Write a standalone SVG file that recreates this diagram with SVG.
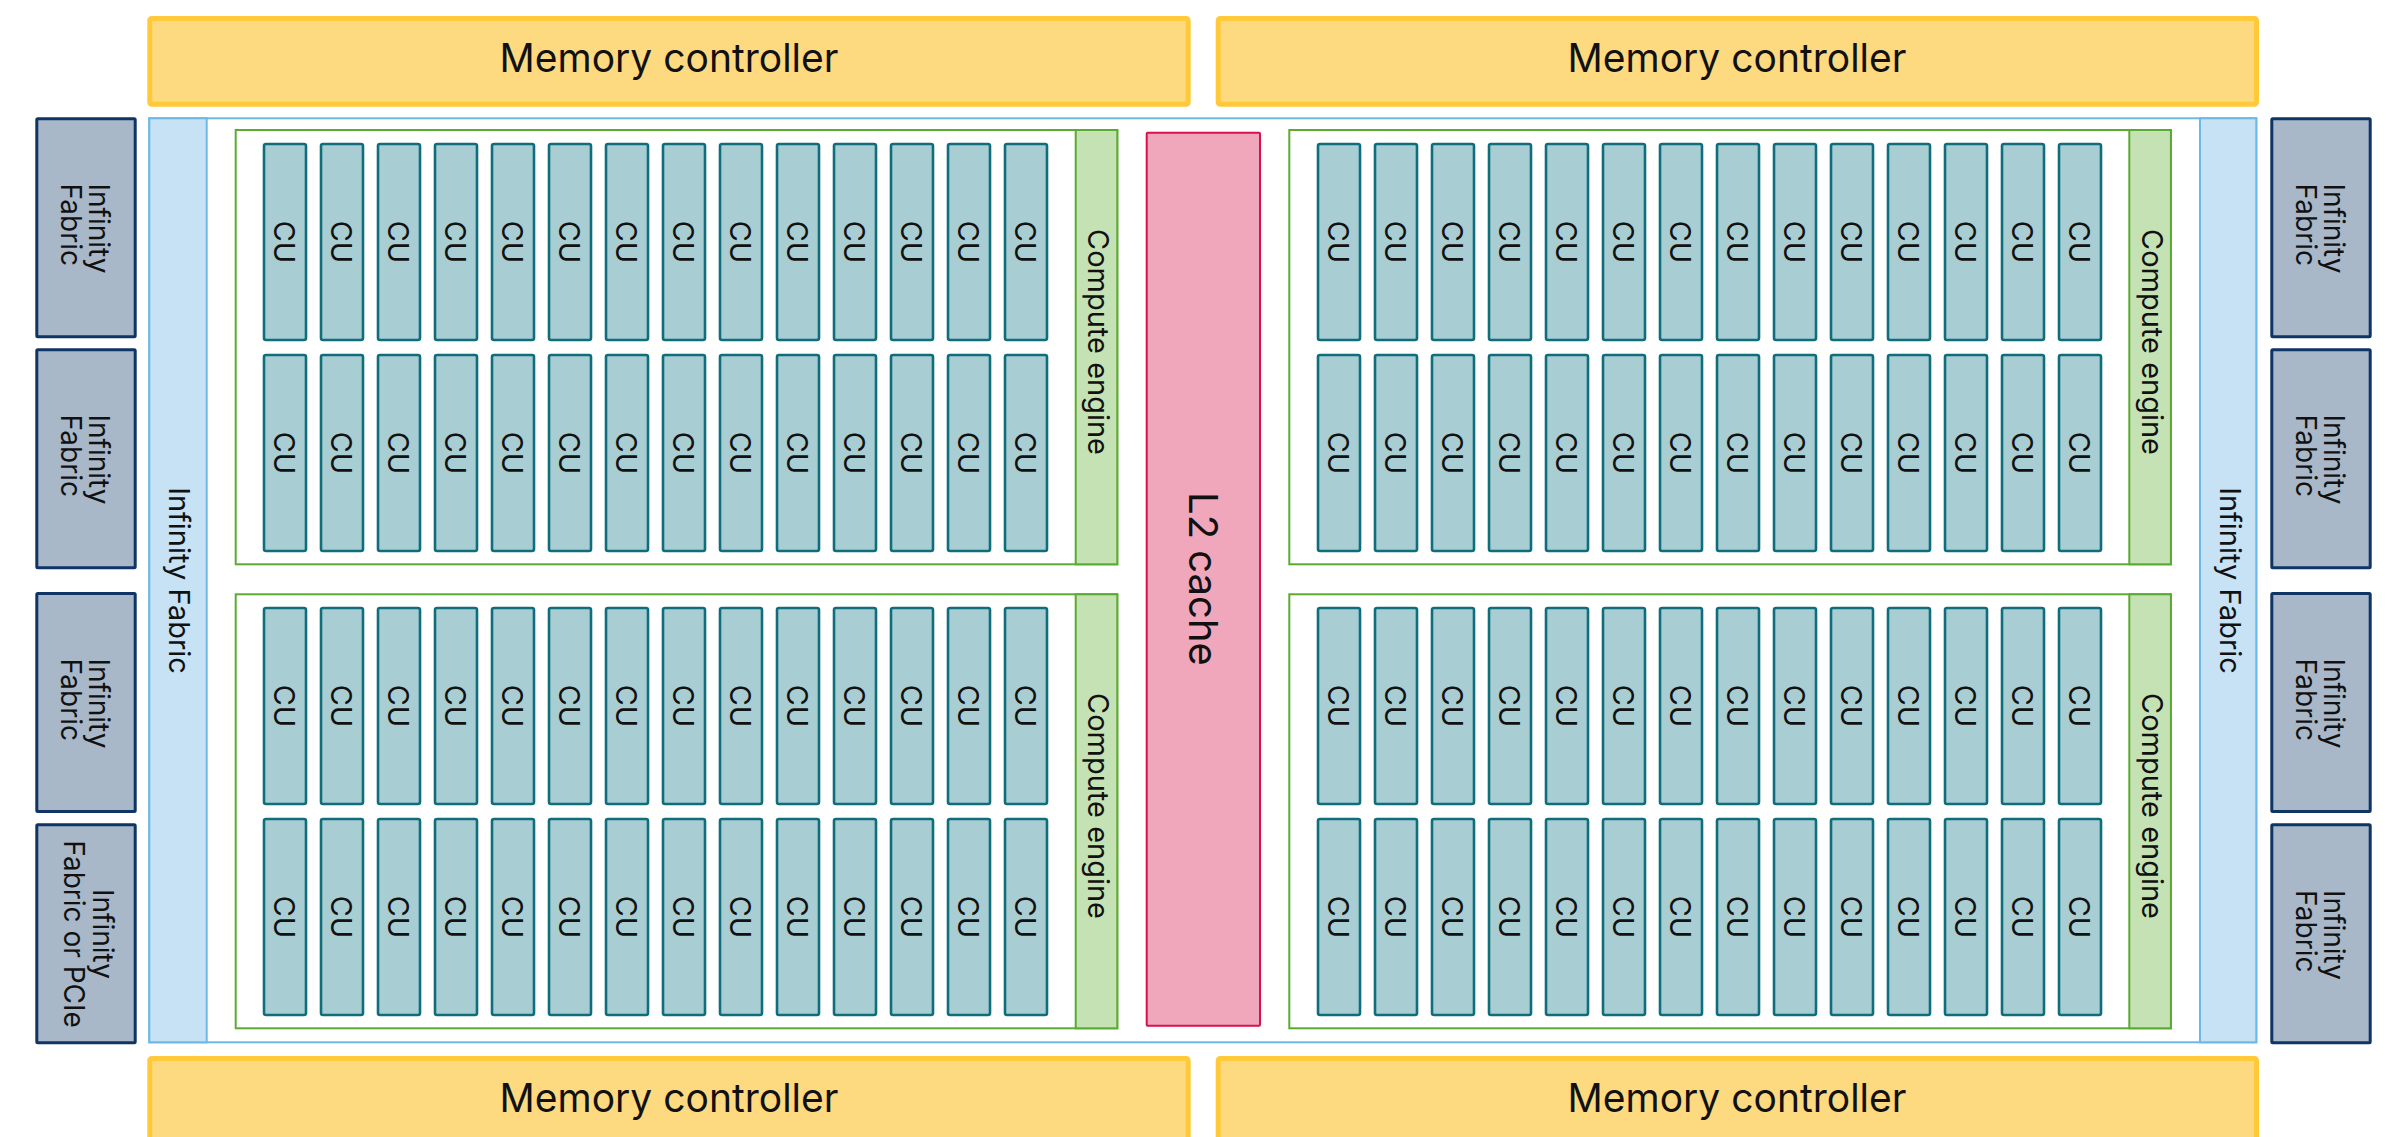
<svg xmlns="http://www.w3.org/2000/svg" width="2392" height="1137" viewBox="0 0 2392 1137">
<style>
text{font-family:Inter,"Liberation Sans",sans-serif;fill:#111;text-anchor:middle}
.mc{fill:#fdd97f;stroke:#ffc93a;stroke-width:5}
.mct{font-size:39px}
.if{fill:#a9b8c8;stroke:#0e3564;stroke-width:3}
.ift{font-size:28px;text-anchor:start}
.ifc{font-size:28px}
.outer{fill:#fff;stroke:#6cb8e6;stroke-width:2}
.strip{fill:#c6e2f4;stroke:#6cb8e6;stroke-width:2}
.st{font-size:29px}
.ce{fill:#fff;stroke:#5aac30;stroke-width:2}
.ces{fill:#c5e2b5;stroke:#5aac30;stroke-width:2}
.l2{fill:#f0a7bc;stroke:#d8104c;stroke-width:2}
.l2t{font-size:40px}
.cu{fill:#a8cdd3;stroke:#0f6e7b;stroke-width:2.6}
.cut{font-size:29px}
</style>
<rect width="2392" height="1137" fill="#fff"/>
<g id="memory-controllers">
<g id="mc-top-left"><rect class="mc" x="149.8" y="18.5" width="1038.4" height="85.7" rx="2"/><text class="mct" x="669" y="71.7">Memory controller</text></g>
<g id="mc-top-right"><rect class="mc" x="1218.2" y="18.5" width="1038.3" height="85.7" rx="2"/><text class="mct" x="1737" y="71.7">Memory controller</text></g>
<g id="mc-bottom-left"><rect class="mc" x="149.8" y="1058.5" width="1038.4" height="85.7" rx="2"/><text class="mct" x="669" y="1111.7">Memory controller</text></g>
<g id="mc-bottom-right"><rect class="mc" x="1218.2" y="1058.5" width="1038.3" height="85.7" rx="2"/><text class="mct" x="1737" y="1111.7">Memory controller</text></g>
</g>
<g id="io-links">
<g id="if-left-1"><rect class="if" x="36.8" y="118.8" width="98.4" height="218" rx="1"/><text class="ift" transform="translate(86 227.5) rotate(90)"><tspan x="-44" y="-2.5">Infinity</tspan><tspan x="-44" y="25.5">Fabric</tspan></text></g>
<g id="if-left-2"><rect class="if" x="36.8" y="349.8" width="98.4" height="218" rx="1"/><text class="ift" transform="translate(86 458.5) rotate(90)"><tspan x="-44" y="-2.5">Infinity</tspan><tspan x="-44" y="25.5">Fabric</tspan></text></g>
<g id="if-left-3"><rect class="if" x="36.8" y="593.5" width="98.4" height="218" rx="1"/><text class="ift" transform="translate(86 702.5) rotate(90)"><tspan x="-44" y="-2.5">Infinity</tspan><tspan x="-44" y="25.5">Fabric</tspan></text></g>
<g id="if-left-4"><rect class="if" x="36.8" y="824.8" width="98.4" height="218" rx="1"/><text class="ifc" transform="translate(86 934) rotate(90)"><tspan x="0" y="-6.7">Infinity</tspan><tspan x="0" y="22">Fabric or PCIe</tspan></text></g>
<g id="if-right-1"><rect class="if" x="2271.8" y="118.8" width="98.4" height="218" rx="1"/><text class="ift" transform="translate(2321 227.5) rotate(90)"><tspan x="-44" y="-3">Infinity</tspan><tspan x="-44" y="25.5">Fabric</tspan></text></g>
<g id="if-right-2"><rect class="if" x="2271.8" y="349.8" width="98.4" height="218" rx="1"/><text class="ift" transform="translate(2321 458.5) rotate(90)"><tspan x="-44" y="-3">Infinity</tspan><tspan x="-44" y="25.5">Fabric</tspan></text></g>
<g id="if-right-3"><rect class="if" x="2271.8" y="593.5" width="98.4" height="218" rx="1"/><text class="ift" transform="translate(2321 702.5) rotate(90)"><tspan x="-44" y="-3">Infinity</tspan><tspan x="-44" y="25.5">Fabric</tspan></text></g>
<g id="if-right-4"><rect class="if" x="2271.8" y="824.8" width="98.4" height="218" rx="1"/><text class="ift" transform="translate(2321 934) rotate(90)"><tspan x="-44" y="-3">Infinity</tspan><tspan x="-44" y="25.5">Fabric</tspan></text></g>
</g>
<g id="die">
<rect class="outer" x="149.3" y="118.3" width="2107" height="924"/>
<g id="if-strip-left"><rect class="strip" x="149.3" y="118.3" width="57.4" height="924"/><text class="st" transform="translate(177.5 580.5) rotate(90)" y="8.2">Infinity Fabric</text></g>
<g id="if-strip-right"><rect class="strip" x="2200" y="118.3" width="56.3" height="924"/><text class="st" transform="translate(2228.5 580.5) rotate(90)" y="8.2">Infinity Fabric</text></g>
<g id="l2-cache"><rect class="l2" x="1146.7" y="132.7" width="113.3" height="893" rx="1"/><text class="l2t" transform="translate(1203.5 579) rotate(90)" y="15">L2 cache</text></g>
</g>
<g id="ce-top-left"><rect class="ce" x="235.7" y="130" width="881.6" height="434.3"/><rect class="ces" x="1075.7" y="130" width="41.6" height="434.3"/><text class="st" transform="translate(1096.5 342) rotate(90)" y="8.2">Compute engine</text></g>
<g id="ce-bottom-left"><rect class="ce" x="235.7" y="594.3" width="881.6" height="434"/><rect class="ces" x="1075.7" y="594.3" width="41.6" height="434"/><text class="st" transform="translate(1096.5 806) rotate(90)" y="8.2">Compute engine</text></g>
<g id="ce-top-right"><rect class="ce" x="1289.3" y="130" width="881.6" height="434.3"/><rect class="ces" x="2129.3" y="130" width="41.6" height="434.3"/><text class="st" transform="translate(2150.1 342) rotate(90)" y="8.2">Compute engine</text></g>
<g id="ce-bottom-right"><rect class="ce" x="1289.3" y="594.3" width="881.6" height="434"/><rect class="ces" x="2129.3" y="594.3" width="41.6" height="434"/><text class="st" transform="translate(2150.1 806) rotate(90)" y="8.2">Compute engine</text></g>
<g id="cus">
<g id="cu-tl-r1-01"><rect class="cu" x="264" y="144" width="42" height="196" rx="2"/><text class="cut" transform="translate(285 242) rotate(90)" y="10.8">CU</text></g>
<g id="cu-tl-r1-02"><rect class="cu" x="321" y="144" width="42" height="196" rx="2"/><text class="cut" transform="translate(342 242) rotate(90)" y="10.8">CU</text></g>
<g id="cu-tl-r1-03"><rect class="cu" x="378" y="144" width="42" height="196" rx="2"/><text class="cut" transform="translate(399 242) rotate(90)" y="10.8">CU</text></g>
<g id="cu-tl-r1-04"><rect class="cu" x="435" y="144" width="42" height="196" rx="2"/><text class="cut" transform="translate(456 242) rotate(90)" y="10.8">CU</text></g>
<g id="cu-tl-r1-05"><rect class="cu" x="492" y="144" width="42" height="196" rx="2"/><text class="cut" transform="translate(513 242) rotate(90)" y="10.8">CU</text></g>
<g id="cu-tl-r1-06"><rect class="cu" x="549" y="144" width="42" height="196" rx="2"/><text class="cut" transform="translate(570 242) rotate(90)" y="10.8">CU</text></g>
<g id="cu-tl-r1-07"><rect class="cu" x="606" y="144" width="42" height="196" rx="2"/><text class="cut" transform="translate(627 242) rotate(90)" y="10.8">CU</text></g>
<g id="cu-tl-r1-08"><rect class="cu" x="663" y="144" width="42" height="196" rx="2"/><text class="cut" transform="translate(684 242) rotate(90)" y="10.8">CU</text></g>
<g id="cu-tl-r1-09"><rect class="cu" x="720" y="144" width="42" height="196" rx="2"/><text class="cut" transform="translate(741 242) rotate(90)" y="10.8">CU</text></g>
<g id="cu-tl-r1-10"><rect class="cu" x="777" y="144" width="42" height="196" rx="2"/><text class="cut" transform="translate(798 242) rotate(90)" y="10.8">CU</text></g>
<g id="cu-tl-r1-11"><rect class="cu" x="834" y="144" width="42" height="196" rx="2"/><text class="cut" transform="translate(855 242) rotate(90)" y="10.8">CU</text></g>
<g id="cu-tl-r1-12"><rect class="cu" x="891" y="144" width="42" height="196" rx="2"/><text class="cut" transform="translate(912 242) rotate(90)" y="10.8">CU</text></g>
<g id="cu-tl-r1-13"><rect class="cu" x="948" y="144" width="42" height="196" rx="2"/><text class="cut" transform="translate(969 242) rotate(90)" y="10.8">CU</text></g>
<g id="cu-tl-r1-14"><rect class="cu" x="1005" y="144" width="42" height="196" rx="2"/><text class="cut" transform="translate(1026 242) rotate(90)" y="10.8">CU</text></g>
<g id="cu-tl-r2-01"><rect class="cu" x="264" y="355" width="42" height="196" rx="2"/><text class="cut" transform="translate(285 453) rotate(90)" y="10.8">CU</text></g>
<g id="cu-tl-r2-02"><rect class="cu" x="321" y="355" width="42" height="196" rx="2"/><text class="cut" transform="translate(342 453) rotate(90)" y="10.8">CU</text></g>
<g id="cu-tl-r2-03"><rect class="cu" x="378" y="355" width="42" height="196" rx="2"/><text class="cut" transform="translate(399 453) rotate(90)" y="10.8">CU</text></g>
<g id="cu-tl-r2-04"><rect class="cu" x="435" y="355" width="42" height="196" rx="2"/><text class="cut" transform="translate(456 453) rotate(90)" y="10.8">CU</text></g>
<g id="cu-tl-r2-05"><rect class="cu" x="492" y="355" width="42" height="196" rx="2"/><text class="cut" transform="translate(513 453) rotate(90)" y="10.8">CU</text></g>
<g id="cu-tl-r2-06"><rect class="cu" x="549" y="355" width="42" height="196" rx="2"/><text class="cut" transform="translate(570 453) rotate(90)" y="10.8">CU</text></g>
<g id="cu-tl-r2-07"><rect class="cu" x="606" y="355" width="42" height="196" rx="2"/><text class="cut" transform="translate(627 453) rotate(90)" y="10.8">CU</text></g>
<g id="cu-tl-r2-08"><rect class="cu" x="663" y="355" width="42" height="196" rx="2"/><text class="cut" transform="translate(684 453) rotate(90)" y="10.8">CU</text></g>
<g id="cu-tl-r2-09"><rect class="cu" x="720" y="355" width="42" height="196" rx="2"/><text class="cut" transform="translate(741 453) rotate(90)" y="10.8">CU</text></g>
<g id="cu-tl-r2-10"><rect class="cu" x="777" y="355" width="42" height="196" rx="2"/><text class="cut" transform="translate(798 453) rotate(90)" y="10.8">CU</text></g>
<g id="cu-tl-r2-11"><rect class="cu" x="834" y="355" width="42" height="196" rx="2"/><text class="cut" transform="translate(855 453) rotate(90)" y="10.8">CU</text></g>
<g id="cu-tl-r2-12"><rect class="cu" x="891" y="355" width="42" height="196" rx="2"/><text class="cut" transform="translate(912 453) rotate(90)" y="10.8">CU</text></g>
<g id="cu-tl-r2-13"><rect class="cu" x="948" y="355" width="42" height="196" rx="2"/><text class="cut" transform="translate(969 453) rotate(90)" y="10.8">CU</text></g>
<g id="cu-tl-r2-14"><rect class="cu" x="1005" y="355" width="42" height="196" rx="2"/><text class="cut" transform="translate(1026 453) rotate(90)" y="10.8">CU</text></g>
<g id="cu-bl-r1-01"><rect class="cu" x="264" y="608" width="42" height="196" rx="2"/><text class="cut" transform="translate(285 706) rotate(90)" y="10.8">CU</text></g>
<g id="cu-bl-r1-02"><rect class="cu" x="321" y="608" width="42" height="196" rx="2"/><text class="cut" transform="translate(342 706) rotate(90)" y="10.8">CU</text></g>
<g id="cu-bl-r1-03"><rect class="cu" x="378" y="608" width="42" height="196" rx="2"/><text class="cut" transform="translate(399 706) rotate(90)" y="10.8">CU</text></g>
<g id="cu-bl-r1-04"><rect class="cu" x="435" y="608" width="42" height="196" rx="2"/><text class="cut" transform="translate(456 706) rotate(90)" y="10.8">CU</text></g>
<g id="cu-bl-r1-05"><rect class="cu" x="492" y="608" width="42" height="196" rx="2"/><text class="cut" transform="translate(513 706) rotate(90)" y="10.8">CU</text></g>
<g id="cu-bl-r1-06"><rect class="cu" x="549" y="608" width="42" height="196" rx="2"/><text class="cut" transform="translate(570 706) rotate(90)" y="10.8">CU</text></g>
<g id="cu-bl-r1-07"><rect class="cu" x="606" y="608" width="42" height="196" rx="2"/><text class="cut" transform="translate(627 706) rotate(90)" y="10.8">CU</text></g>
<g id="cu-bl-r1-08"><rect class="cu" x="663" y="608" width="42" height="196" rx="2"/><text class="cut" transform="translate(684 706) rotate(90)" y="10.8">CU</text></g>
<g id="cu-bl-r1-09"><rect class="cu" x="720" y="608" width="42" height="196" rx="2"/><text class="cut" transform="translate(741 706) rotate(90)" y="10.8">CU</text></g>
<g id="cu-bl-r1-10"><rect class="cu" x="777" y="608" width="42" height="196" rx="2"/><text class="cut" transform="translate(798 706) rotate(90)" y="10.8">CU</text></g>
<g id="cu-bl-r1-11"><rect class="cu" x="834" y="608" width="42" height="196" rx="2"/><text class="cut" transform="translate(855 706) rotate(90)" y="10.8">CU</text></g>
<g id="cu-bl-r1-12"><rect class="cu" x="891" y="608" width="42" height="196" rx="2"/><text class="cut" transform="translate(912 706) rotate(90)" y="10.8">CU</text></g>
<g id="cu-bl-r1-13"><rect class="cu" x="948" y="608" width="42" height="196" rx="2"/><text class="cut" transform="translate(969 706) rotate(90)" y="10.8">CU</text></g>
<g id="cu-bl-r1-14"><rect class="cu" x="1005" y="608" width="42" height="196" rx="2"/><text class="cut" transform="translate(1026 706) rotate(90)" y="10.8">CU</text></g>
<g id="cu-bl-r2-01"><rect class="cu" x="264" y="819" width="42" height="196" rx="2"/><text class="cut" transform="translate(285 917) rotate(90)" y="10.8">CU</text></g>
<g id="cu-bl-r2-02"><rect class="cu" x="321" y="819" width="42" height="196" rx="2"/><text class="cut" transform="translate(342 917) rotate(90)" y="10.8">CU</text></g>
<g id="cu-bl-r2-03"><rect class="cu" x="378" y="819" width="42" height="196" rx="2"/><text class="cut" transform="translate(399 917) rotate(90)" y="10.8">CU</text></g>
<g id="cu-bl-r2-04"><rect class="cu" x="435" y="819" width="42" height="196" rx="2"/><text class="cut" transform="translate(456 917) rotate(90)" y="10.8">CU</text></g>
<g id="cu-bl-r2-05"><rect class="cu" x="492" y="819" width="42" height="196" rx="2"/><text class="cut" transform="translate(513 917) rotate(90)" y="10.8">CU</text></g>
<g id="cu-bl-r2-06"><rect class="cu" x="549" y="819" width="42" height="196" rx="2"/><text class="cut" transform="translate(570 917) rotate(90)" y="10.8">CU</text></g>
<g id="cu-bl-r2-07"><rect class="cu" x="606" y="819" width="42" height="196" rx="2"/><text class="cut" transform="translate(627 917) rotate(90)" y="10.8">CU</text></g>
<g id="cu-bl-r2-08"><rect class="cu" x="663" y="819" width="42" height="196" rx="2"/><text class="cut" transform="translate(684 917) rotate(90)" y="10.8">CU</text></g>
<g id="cu-bl-r2-09"><rect class="cu" x="720" y="819" width="42" height="196" rx="2"/><text class="cut" transform="translate(741 917) rotate(90)" y="10.8">CU</text></g>
<g id="cu-bl-r2-10"><rect class="cu" x="777" y="819" width="42" height="196" rx="2"/><text class="cut" transform="translate(798 917) rotate(90)" y="10.8">CU</text></g>
<g id="cu-bl-r2-11"><rect class="cu" x="834" y="819" width="42" height="196" rx="2"/><text class="cut" transform="translate(855 917) rotate(90)" y="10.8">CU</text></g>
<g id="cu-bl-r2-12"><rect class="cu" x="891" y="819" width="42" height="196" rx="2"/><text class="cut" transform="translate(912 917) rotate(90)" y="10.8">CU</text></g>
<g id="cu-bl-r2-13"><rect class="cu" x="948" y="819" width="42" height="196" rx="2"/><text class="cut" transform="translate(969 917) rotate(90)" y="10.8">CU</text></g>
<g id="cu-bl-r2-14"><rect class="cu" x="1005" y="819" width="42" height="196" rx="2"/><text class="cut" transform="translate(1026 917) rotate(90)" y="10.8">CU</text></g>
<g id="cu-tr-r1-01"><rect class="cu" x="1318" y="144" width="42" height="196" rx="2"/><text class="cut" transform="translate(1339 242) rotate(90)" y="10.8">CU</text></g>
<g id="cu-tr-r1-02"><rect class="cu" x="1375" y="144" width="42" height="196" rx="2"/><text class="cut" transform="translate(1396 242) rotate(90)" y="10.8">CU</text></g>
<g id="cu-tr-r1-03"><rect class="cu" x="1432" y="144" width="42" height="196" rx="2"/><text class="cut" transform="translate(1453 242) rotate(90)" y="10.8">CU</text></g>
<g id="cu-tr-r1-04"><rect class="cu" x="1489" y="144" width="42" height="196" rx="2"/><text class="cut" transform="translate(1510 242) rotate(90)" y="10.8">CU</text></g>
<g id="cu-tr-r1-05"><rect class="cu" x="1546" y="144" width="42" height="196" rx="2"/><text class="cut" transform="translate(1567 242) rotate(90)" y="10.8">CU</text></g>
<g id="cu-tr-r1-06"><rect class="cu" x="1603" y="144" width="42" height="196" rx="2"/><text class="cut" transform="translate(1624 242) rotate(90)" y="10.8">CU</text></g>
<g id="cu-tr-r1-07"><rect class="cu" x="1660" y="144" width="42" height="196" rx="2"/><text class="cut" transform="translate(1681 242) rotate(90)" y="10.8">CU</text></g>
<g id="cu-tr-r1-08"><rect class="cu" x="1717" y="144" width="42" height="196" rx="2"/><text class="cut" transform="translate(1738 242) rotate(90)" y="10.8">CU</text></g>
<g id="cu-tr-r1-09"><rect class="cu" x="1774" y="144" width="42" height="196" rx="2"/><text class="cut" transform="translate(1795 242) rotate(90)" y="10.8">CU</text></g>
<g id="cu-tr-r1-10"><rect class="cu" x="1831" y="144" width="42" height="196" rx="2"/><text class="cut" transform="translate(1852 242) rotate(90)" y="10.8">CU</text></g>
<g id="cu-tr-r1-11"><rect class="cu" x="1888" y="144" width="42" height="196" rx="2"/><text class="cut" transform="translate(1909 242) rotate(90)" y="10.8">CU</text></g>
<g id="cu-tr-r1-12"><rect class="cu" x="1945" y="144" width="42" height="196" rx="2"/><text class="cut" transform="translate(1966 242) rotate(90)" y="10.8">CU</text></g>
<g id="cu-tr-r1-13"><rect class="cu" x="2002" y="144" width="42" height="196" rx="2"/><text class="cut" transform="translate(2023 242) rotate(90)" y="10.8">CU</text></g>
<g id="cu-tr-r1-14"><rect class="cu" x="2059" y="144" width="42" height="196" rx="2"/><text class="cut" transform="translate(2080 242) rotate(90)" y="10.8">CU</text></g>
<g id="cu-tr-r2-01"><rect class="cu" x="1318" y="355" width="42" height="196" rx="2"/><text class="cut" transform="translate(1339 453) rotate(90)" y="10.8">CU</text></g>
<g id="cu-tr-r2-02"><rect class="cu" x="1375" y="355" width="42" height="196" rx="2"/><text class="cut" transform="translate(1396 453) rotate(90)" y="10.8">CU</text></g>
<g id="cu-tr-r2-03"><rect class="cu" x="1432" y="355" width="42" height="196" rx="2"/><text class="cut" transform="translate(1453 453) rotate(90)" y="10.8">CU</text></g>
<g id="cu-tr-r2-04"><rect class="cu" x="1489" y="355" width="42" height="196" rx="2"/><text class="cut" transform="translate(1510 453) rotate(90)" y="10.8">CU</text></g>
<g id="cu-tr-r2-05"><rect class="cu" x="1546" y="355" width="42" height="196" rx="2"/><text class="cut" transform="translate(1567 453) rotate(90)" y="10.8">CU</text></g>
<g id="cu-tr-r2-06"><rect class="cu" x="1603" y="355" width="42" height="196" rx="2"/><text class="cut" transform="translate(1624 453) rotate(90)" y="10.8">CU</text></g>
<g id="cu-tr-r2-07"><rect class="cu" x="1660" y="355" width="42" height="196" rx="2"/><text class="cut" transform="translate(1681 453) rotate(90)" y="10.8">CU</text></g>
<g id="cu-tr-r2-08"><rect class="cu" x="1717" y="355" width="42" height="196" rx="2"/><text class="cut" transform="translate(1738 453) rotate(90)" y="10.8">CU</text></g>
<g id="cu-tr-r2-09"><rect class="cu" x="1774" y="355" width="42" height="196" rx="2"/><text class="cut" transform="translate(1795 453) rotate(90)" y="10.8">CU</text></g>
<g id="cu-tr-r2-10"><rect class="cu" x="1831" y="355" width="42" height="196" rx="2"/><text class="cut" transform="translate(1852 453) rotate(90)" y="10.8">CU</text></g>
<g id="cu-tr-r2-11"><rect class="cu" x="1888" y="355" width="42" height="196" rx="2"/><text class="cut" transform="translate(1909 453) rotate(90)" y="10.8">CU</text></g>
<g id="cu-tr-r2-12"><rect class="cu" x="1945" y="355" width="42" height="196" rx="2"/><text class="cut" transform="translate(1966 453) rotate(90)" y="10.8">CU</text></g>
<g id="cu-tr-r2-13"><rect class="cu" x="2002" y="355" width="42" height="196" rx="2"/><text class="cut" transform="translate(2023 453) rotate(90)" y="10.8">CU</text></g>
<g id="cu-tr-r2-14"><rect class="cu" x="2059" y="355" width="42" height="196" rx="2"/><text class="cut" transform="translate(2080 453) rotate(90)" y="10.8">CU</text></g>
<g id="cu-br-r1-01"><rect class="cu" x="1318" y="608" width="42" height="196" rx="2"/><text class="cut" transform="translate(1339 706) rotate(90)" y="10.8">CU</text></g>
<g id="cu-br-r1-02"><rect class="cu" x="1375" y="608" width="42" height="196" rx="2"/><text class="cut" transform="translate(1396 706) rotate(90)" y="10.8">CU</text></g>
<g id="cu-br-r1-03"><rect class="cu" x="1432" y="608" width="42" height="196" rx="2"/><text class="cut" transform="translate(1453 706) rotate(90)" y="10.8">CU</text></g>
<g id="cu-br-r1-04"><rect class="cu" x="1489" y="608" width="42" height="196" rx="2"/><text class="cut" transform="translate(1510 706) rotate(90)" y="10.8">CU</text></g>
<g id="cu-br-r1-05"><rect class="cu" x="1546" y="608" width="42" height="196" rx="2"/><text class="cut" transform="translate(1567 706) rotate(90)" y="10.8">CU</text></g>
<g id="cu-br-r1-06"><rect class="cu" x="1603" y="608" width="42" height="196" rx="2"/><text class="cut" transform="translate(1624 706) rotate(90)" y="10.8">CU</text></g>
<g id="cu-br-r1-07"><rect class="cu" x="1660" y="608" width="42" height="196" rx="2"/><text class="cut" transform="translate(1681 706) rotate(90)" y="10.8">CU</text></g>
<g id="cu-br-r1-08"><rect class="cu" x="1717" y="608" width="42" height="196" rx="2"/><text class="cut" transform="translate(1738 706) rotate(90)" y="10.8">CU</text></g>
<g id="cu-br-r1-09"><rect class="cu" x="1774" y="608" width="42" height="196" rx="2"/><text class="cut" transform="translate(1795 706) rotate(90)" y="10.8">CU</text></g>
<g id="cu-br-r1-10"><rect class="cu" x="1831" y="608" width="42" height="196" rx="2"/><text class="cut" transform="translate(1852 706) rotate(90)" y="10.8">CU</text></g>
<g id="cu-br-r1-11"><rect class="cu" x="1888" y="608" width="42" height="196" rx="2"/><text class="cut" transform="translate(1909 706) rotate(90)" y="10.8">CU</text></g>
<g id="cu-br-r1-12"><rect class="cu" x="1945" y="608" width="42" height="196" rx="2"/><text class="cut" transform="translate(1966 706) rotate(90)" y="10.8">CU</text></g>
<g id="cu-br-r1-13"><rect class="cu" x="2002" y="608" width="42" height="196" rx="2"/><text class="cut" transform="translate(2023 706) rotate(90)" y="10.8">CU</text></g>
<g id="cu-br-r1-14"><rect class="cu" x="2059" y="608" width="42" height="196" rx="2"/><text class="cut" transform="translate(2080 706) rotate(90)" y="10.8">CU</text></g>
<g id="cu-br-r2-01"><rect class="cu" x="1318" y="819" width="42" height="196" rx="2"/><text class="cut" transform="translate(1339 917) rotate(90)" y="10.8">CU</text></g>
<g id="cu-br-r2-02"><rect class="cu" x="1375" y="819" width="42" height="196" rx="2"/><text class="cut" transform="translate(1396 917) rotate(90)" y="10.8">CU</text></g>
<g id="cu-br-r2-03"><rect class="cu" x="1432" y="819" width="42" height="196" rx="2"/><text class="cut" transform="translate(1453 917) rotate(90)" y="10.8">CU</text></g>
<g id="cu-br-r2-04"><rect class="cu" x="1489" y="819" width="42" height="196" rx="2"/><text class="cut" transform="translate(1510 917) rotate(90)" y="10.8">CU</text></g>
<g id="cu-br-r2-05"><rect class="cu" x="1546" y="819" width="42" height="196" rx="2"/><text class="cut" transform="translate(1567 917) rotate(90)" y="10.8">CU</text></g>
<g id="cu-br-r2-06"><rect class="cu" x="1603" y="819" width="42" height="196" rx="2"/><text class="cut" transform="translate(1624 917) rotate(90)" y="10.8">CU</text></g>
<g id="cu-br-r2-07"><rect class="cu" x="1660" y="819" width="42" height="196" rx="2"/><text class="cut" transform="translate(1681 917) rotate(90)" y="10.8">CU</text></g>
<g id="cu-br-r2-08"><rect class="cu" x="1717" y="819" width="42" height="196" rx="2"/><text class="cut" transform="translate(1738 917) rotate(90)" y="10.8">CU</text></g>
<g id="cu-br-r2-09"><rect class="cu" x="1774" y="819" width="42" height="196" rx="2"/><text class="cut" transform="translate(1795 917) rotate(90)" y="10.8">CU</text></g>
<g id="cu-br-r2-10"><rect class="cu" x="1831" y="819" width="42" height="196" rx="2"/><text class="cut" transform="translate(1852 917) rotate(90)" y="10.8">CU</text></g>
<g id="cu-br-r2-11"><rect class="cu" x="1888" y="819" width="42" height="196" rx="2"/><text class="cut" transform="translate(1909 917) rotate(90)" y="10.8">CU</text></g>
<g id="cu-br-r2-12"><rect class="cu" x="1945" y="819" width="42" height="196" rx="2"/><text class="cut" transform="translate(1966 917) rotate(90)" y="10.8">CU</text></g>
<g id="cu-br-r2-13"><rect class="cu" x="2002" y="819" width="42" height="196" rx="2"/><text class="cut" transform="translate(2023 917) rotate(90)" y="10.8">CU</text></g>
<g id="cu-br-r2-14"><rect class="cu" x="2059" y="819" width="42" height="196" rx="2"/><text class="cut" transform="translate(2080 917) rotate(90)" y="10.8">CU</text></g>
</g>
<g id="connectors"/>
</svg>
